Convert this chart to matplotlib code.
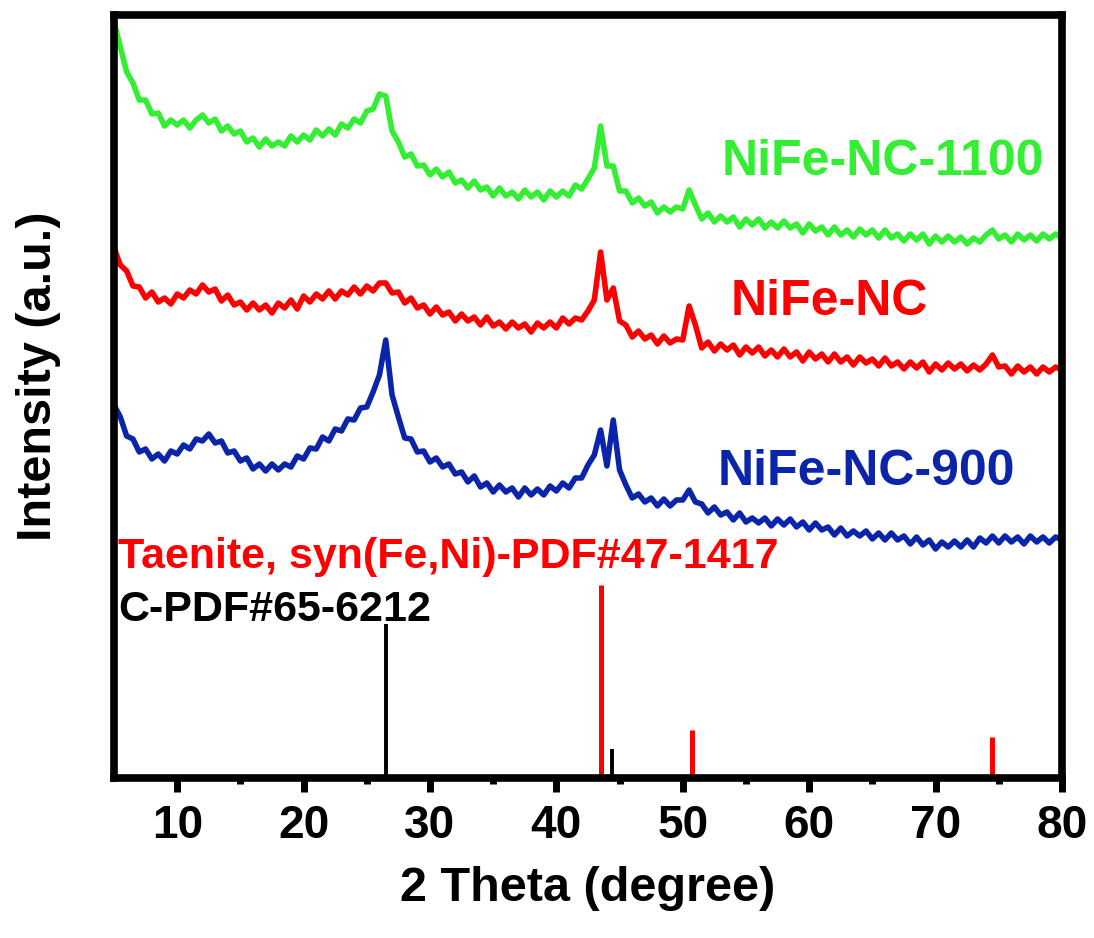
import numpy as np
import matplotlib.pyplot as plt

plt.rcParams['font.family'] = ['Liberation Sans', 'DejaVu Sans']
plt.rcParams['font.weight'] = 'bold'

###############################################################################
# 2 theta grid (0.5 deg step) and stacked intensities (a.u., offset per sample)
two_theta = np.arange(5.0, 80.01, 0.5)

nife_nc_1100 = [
    756, 731, 706, 695, 678, 678, 664, 665, 652, 658, 653, 658, 650, 658, 663,
    655, 659, 647, 652, 644, 647, 636, 640, 631, 639, 632, 636, 632, 642, 636,
    643, 638, 648, 642, 649, 643, 654, 650, 659, 655, 667, 669, 684, 682, 647,
    636, 621, 624, 612, 613, 603, 609, 601, 606, 595, 598, 590, 597, 588, 591,
    582, 590, 582, 586, 579, 588, 581, 586, 578, 587, 581, 587, 582, 593, 589,
    599, 610, 652, 612, 612, 587, 587, 575, 580, 572, 576, 565, 571, 566, 571,
    569, 588, 573, 559, 565, 556, 562, 556, 561, 551, 559, 553, 559, 550, 556,
    550, 557, 550, 554, 545, 554, 547, 551, 543, 551, 543, 548, 541, 549, 543,
    548, 540, 548, 540, 544, 537, 544, 538, 544, 534, 542, 536, 542, 536, 541,
    534, 540, 536, 543, 548, 539, 543, 536, 544, 538, 543, 537, 544, 539, 544,
    540,
]

nife_nc = [
    530, 513, 507, 492, 491, 480, 486, 476, 480, 474, 484, 480, 488, 484, 493,
    486, 489, 477, 483, 473, 476, 468, 475, 468, 473, 465, 475, 470, 478, 469,
    482, 476, 484, 479, 487, 479, 487, 483, 491, 484, 492, 487, 495, 495, 485,
    486, 475, 480, 470, 473, 464, 471, 463, 466, 457, 464, 457, 461, 453, 461,
    452, 456, 449, 456, 450, 454, 446, 455, 450, 456, 450, 460, 454, 460, 458,
    467, 478, 526, 478, 490, 457, 453, 441, 447, 439, 443, 434, 442, 435, 439,
    438, 472, 453, 430, 436, 427, 434, 428, 433, 423, 431, 425, 431, 422, 428,
    421, 429, 421, 426, 417, 426, 419, 424, 416, 424, 416, 421, 413, 421, 415,
    419, 412, 420, 412, 416, 409, 416, 410, 416, 406, 414, 408, 415, 409, 414,
    407, 413, 408, 414, 423, 411, 412, 404, 412, 406, 411, 404, 411, 406, 411,
    408,
]

nife_nc_900 = [
    373, 361, 342, 339, 326, 329, 319, 324, 317, 327, 324, 333, 329, 339, 337,
    344, 335, 337, 325, 327, 317, 320, 309, 314, 307, 314, 308, 314, 311, 322,
    319, 330, 329, 341, 337, 349, 347, 359, 358, 370, 371, 386, 403, 438, 383,
    361, 340, 339, 326, 327, 316, 320, 311, 314, 304, 306, 296, 302, 291, 295,
    286, 293, 286, 290, 281, 290, 283, 289, 283, 292, 287, 295, 290, 300, 300,
    313, 323, 348, 312, 358, 308, 293, 280, 284, 276, 280, 272, 279, 272, 278,
    278, 288, 276, 274, 265, 271, 263, 266, 258, 265, 256, 260, 255, 260, 252,
    259, 253, 259, 251, 256, 248, 255, 248, 251, 243, 250, 242, 247, 242, 247,
    239, 245, 238, 245, 238, 242, 234, 241, 233, 238, 229, 236, 231, 237, 231,
    238, 231, 240, 235, 242, 235, 242, 236, 241, 234, 242, 236, 241, 235, 241,
    238,
]

# reference patterns (stick positions / heights)
taenite_pos = [43.5, 50.7, 74.5]
taenite_int = [193, 48, 41]
carbon_pos = [26.5, 44.4]
carbon_int = [154, 29]

green = '#33EE33'
red = '#FF0000'
blue = '#0A24AA'

###############################################################################
fig = plt.figure(figsize=(10.94, 9.38), dpi=100)
ax = fig.add_axes([0.1042, 0.1706, 0.8665, 0.8134])

ax.plot(two_theta, nife_nc_1100, color=green, lw=4)
ax.plot(two_theta, nife_nc, color=red, lw=4)
ax.plot(two_theta, nife_nc_900, color=blue, lw=4)

ax.vlines(carbon_pos, 0, carbon_int, color='black', lw=2.8)
ax.vlines(taenite_pos, 0, taenite_int, color=red, lw=3.6)

# labels
ax.text(53.1, 603, 'NiFe-NC-1100', color=green, fontsize=36, fontweight='bold')
ax.text(53.8, 463, 'NiFe-NC', color=red, fontsize=36, fontweight='bold')
ax.text(52.75, 293, 'NiFe-NC-900', color=blue, fontsize=36, fontweight='bold')
ax.text(5.3, 210, 'Taenite, syn(Fe,Ni)-PDF#47-1417', color=red, fontsize=31,
        fontweight='bold')
ax.text(5.3, 157, 'C-PDF#65-6212', color='black', fontsize=31, fontweight='bold')

ax.set_xlim(5, 80)
ax.set_ylim(0, 763)
ax.set_xticks([10, 20, 30, 40, 50, 60, 70, 80])
ax.set_xticks(np.arange(15, 80, 10), minor=True)
ax.set_yticks([])

for s in ax.spines.values():
    s.set_linewidth(5.5)
ax.tick_params(axis='x', which='major', length=10, width=5, direction='out',
               labelsize=33, pad=9)
ax.tick_params(axis='x', which='minor', length=4.5, width=5, direction='out')
for lab in ax.get_xticklabels():
    lab.set_fontweight('bold')

ax.set_xlabel('2 Theta (degree)', fontsize=35, fontweight='bold', va='center')
ax.xaxis.set_label_coords(0.5, -0.145)
ax.set_ylabel('Intensity (a.u.)', fontsize=35, fontweight='bold', va='center')
ax.yaxis.set_label_coords(-0.080, 0.526)

fig.savefig('out.png', dpi=100)
